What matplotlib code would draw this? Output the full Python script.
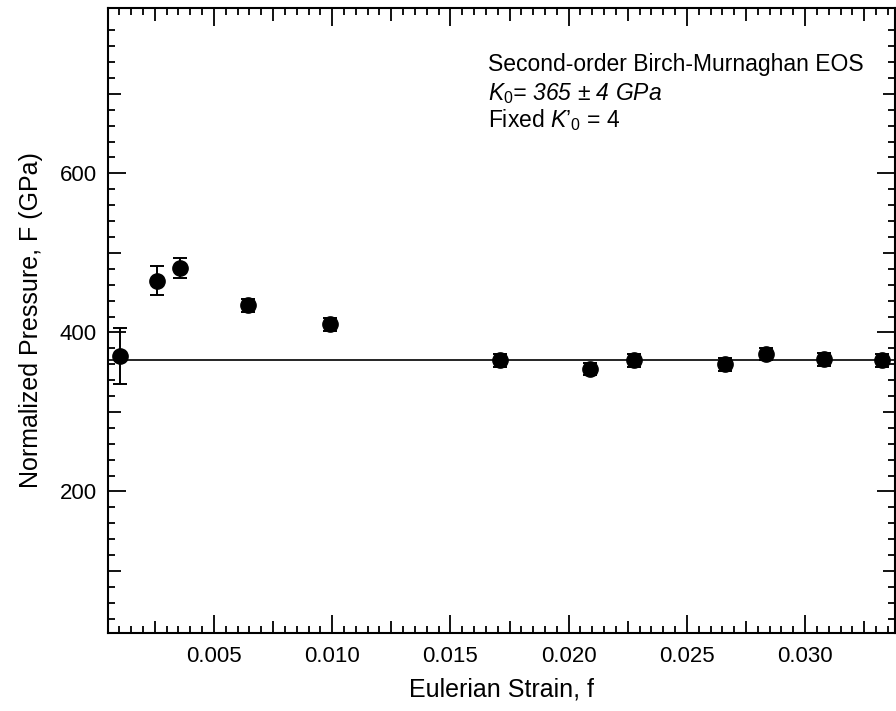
import numpy as np
import matplotlib.pyplot as plt
from matplotlib.ticker import FixedLocator, FuncFormatter

plt.rcParams['font.family'] = ['Liberation Sans', 'DejaVu Sans']
plt.rcParams['mathtext.fontset'] = 'custom'
plt.rcParams['mathtext.rm'] = 'Liberation Sans'
plt.rcParams['mathtext.it'] = 'Liberation Sans:italic'

# Eulerian strain f and normalized pressure F (GPa)
strain = [0.00103, 0.00258, 0.00356, 0.00645, 0.00990, 0.01708,
          0.02092, 0.02275, 0.02662, 0.02834, 0.03080, 0.03326]
norm_p = [370, 465, 481, 434, 410, 365, 354, 365, 360, 373, 366, 365]
norm_p_err = [35, 18, 13, 8, 8, 8, 8, 8, 8, 8, 8, 8]

K0 = 365  # fitted bulk modulus, GPa

fig = plt.figure(figsize=(8.96, 7.11), dpi=100)
ax = fig.add_axes([108 / 896, 78 / 711, 787 / 896, 625 / 711])

ax.errorbar(strain, norm_p, yerr=norm_p_err, fmt='o', color='black',
            ms=11, elinewidth=1.4, capsize=5, capthick=1.4)
ax.axhline(K0, color='black', lw=1.2)

ax.set_xlim(0.00052, 0.0338)
ax.set_ylim(22, 808)

# x ticks: long every 0.005, medium every 0.0025, short every 0.0005
xmaj = np.arange(0.0025, 0.0338, 0.0025)
ax.xaxis.set_major_locator(FixedLocator(xmaj))
ax.xaxis.set_minor_locator(FixedLocator(np.arange(0.0005, 0.0338, 0.0005)))
ax.xaxis.set_major_formatter(FuncFormatter(
    lambda v, p: f'{v:.3f}' if abs(v / 0.005 - round(v / 0.005)) < 1e-6 else ''))

# y ticks: long every 200, medium every 100, short every 20 (up to 780)
ymaj = np.arange(100, 790, 100)
ax.yaxis.set_major_locator(FixedLocator(ymaj))
ax.yaxis.set_minor_locator(FixedLocator(np.arange(40, 790, 20)))
ax.yaxis.set_major_formatter(FuncFormatter(
    lambda v, p: f'{v:.0f}' if round(v) % 200 == 0 else ''))

ax.tick_params(which='both', direction='in', top=True, right=True,
               width=1.3, labelsize=16)
ax.tick_params(which='major', length=9)
ax.tick_params(which='minor', length=5)
ax.tick_params(axis='x', pad=9)
ax.tick_params(axis='y', pad=8)

for ticks, locs, step in ((ax.xaxis.get_major_ticks(len(xmaj)), xmaj, 0.005),
                          (ax.yaxis.get_major_ticks(len(ymaj)), ymaj, 200)):
    for t, v in zip(ticks, locs):
        if abs(v / step - round(v / step)) < 1e-6:
            t.tick1line.set_markersize(13)
            t.tick2line.set_markersize(13)

for s in ax.spines.values():
    s.set_linewidth(1.5)

ax.set_xlabel('Eulerian Strain, f', fontsize=18, labelpad=8)
ax.set_ylabel('Normalized Pressure, F (GPa)', fontsize=18, labelpad=12)

ax.text(0.483, 0.8997, 'Second-order Birch-Murnaghan EOS', transform=ax.transAxes,
        fontsize=16.5, va='baseline')
ax.text(0.483, 0.8528, r'$K_{\mathit{0}}$= 365 ± 4 GPa', transform=ax.transAxes,
        fontsize=16.5, va='baseline', style='italic')
ax.text(0.483, 0.8091, r'Fixed $K’_{\mathit{0}}$ = 4', transform=ax.transAxes,
        fontsize=16.5, va='baseline')

fig.savefig('out.png', dpi=100)
